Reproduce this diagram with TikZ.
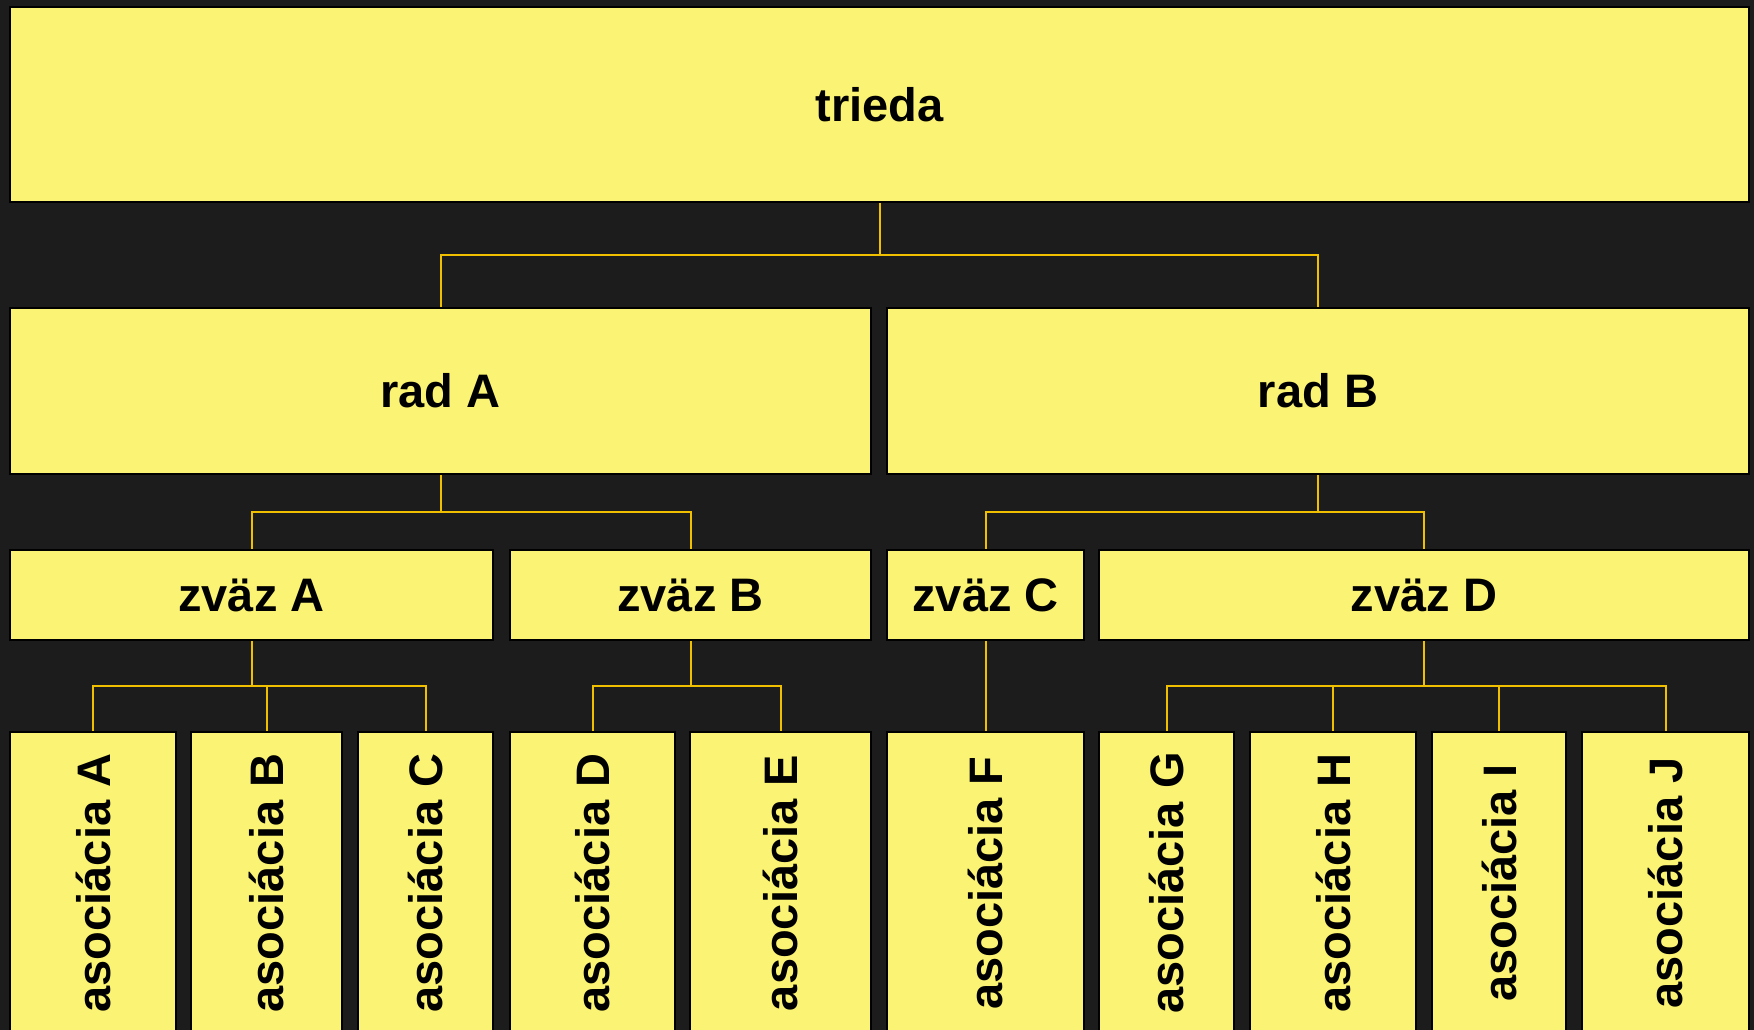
\documentclass[tikz,border=0pt]{standalone}
\usepackage{fontspec}
\setmainfont{Liberation Sans}
\usetikzlibrary{backgrounds}
\definecolor{bgdark}{HTML}{1C1C1C}
\definecolor{boxfill}{HTML}{FBF373}
\definecolor{linkgold}{HTML}{F0C000}
\tikzset{
  box/.style={draw=black, line width=2pt, fill=boxfill, rectangle, inner sep=0pt,
    font=\fontsize{47pt}{56pt}\selectfont\bfseries, text=black},
  link/.style={draw=linkgold, line width=2pt},
}
\newcommand{\vtxt}[1]{\rotatebox{90}{#1}}
\begin{document}
\begin{tikzpicture}[x=1pt,y=1pt]
\useasboundingbox (0,0) rectangle (1754,-1030);
\begin{scope}
\clip (0,0) rectangle (1754,-1030);
% level 0
\node[box, minimum width=1739pt, minimum height=195pt] (trieda) at (879.5,-104.5) {trieda};
% level 1
\node[box, minimum width=861pt, minimum height=166pt] (radA) at (440.5,-391) {rad A};
\node[box, minimum width=862pt, minimum height=166pt] (radB) at (1318,-391) {rad B};
% level 2
\node[box, minimum width=483pt, minimum height=90pt] (zvazA) at (251.5,-595) {zväz A};
\node[box, minimum width=361pt, minimum height=90pt] (zvazB) at (690.5,-595) {zväz B};
\node[box, minimum width=197pt, minimum height=90pt] (zvazC) at (985.5,-595) {zväz C};
\node[box, minimum width=650pt, minimum height=90pt] (zvazD) at (1424,-595) {zväz D};
% level 3
\node[box, minimum width=166pt, minimum height=302pt] (asA) at (93,-883) {\vtxt{asociácia A}};
\node[box, minimum width=151pt, minimum height=302pt] (asB) at (266.5,-883) {\vtxt{asociácia B}};
\node[box, minimum width=135pt, minimum height=302pt] (asC) at (425.5,-883) {\vtxt{asociácia C}};
\node[box, minimum width=165pt, minimum height=302pt] (asD) at (592.5,-883) {\vtxt{asociácia D}};
\node[box, minimum width=181pt, minimum height=302pt] (asE) at (780.5,-883) {\vtxt{asociácia E}};
\node[box, minimum width=197pt, minimum height=302pt] (asF) at (985.5,-883) {\vtxt{asociácia F}};
\node[box, minimum width=135pt, minimum height=302pt] (asG) at (1166.5,-883) {\vtxt{asociácia G}};
\node[box, minimum width=166pt, minimum height=302pt] (asH) at (1333,-883) {\vtxt{asociácia H}};
\node[box, minimum width=134pt, minimum height=302pt] (asI) at (1499,-883) {\vtxt{asociácia I}};
\node[box, minimum width=167pt, minimum height=302pt] (asJ) at (1665.5,-883) {\vtxt{asociácia J}};
\end{scope}
\begin{scope}[on background layer]
\fill[bgdark] (0,0) rectangle (1754,-1030);
\coordinate (bus0) at (0,-255);
\coordinate (bus1) at (0,-512);
\coordinate (bus2) at (0,-686);
% trieda -> rad
\draw[link] (trieda.south) -- (trieda.south |- bus0);
\foreach \c in {radA,radB} \draw[link] (trieda.south |- bus0) -| (\c.north);
% rad -> zvaz
\draw[link] (radA.south) -- (radA.south |- bus1);
\foreach \c in {zvazA,zvazB} \draw[link] (radA.south |- bus1) -| (\c.north);
\draw[link] (radB.south) -- (radB.south |- bus1);
\foreach \c in {zvazC,zvazD} \draw[link] (radB.south |- bus1) -| (\c.north);
% zvaz -> asociacia
\draw[link] (zvazA.south) -- (zvazA.south |- bus2);
\foreach \c in {asA,asB,asC} \draw[link] (zvazA.south |- bus2) -| (\c.north);
\draw[link] (zvazB.south) -- (zvazB.south |- bus2);
\foreach \c in {asD,asE} \draw[link] (zvazB.south |- bus2) -| (\c.north);
\draw[link] (zvazC.south) -- (asF.north);
\draw[link] (zvazD.south) -- (zvazD.south |- bus2);
\foreach \c in {asG,asH,asI,asJ} \draw[link] (zvazD.south |- bus2) -| (\c.north);
\end{scope}
\end{tikzpicture}
\end{document}
